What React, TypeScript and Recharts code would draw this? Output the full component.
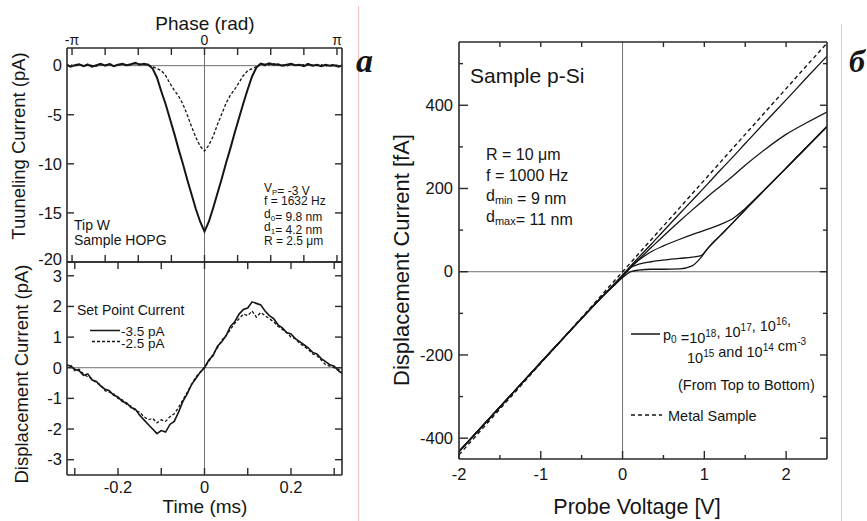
import React from "react";
import { LineChart, Line, XAxis, YAxis, ReferenceLine } from "recharts";

// time grid (ms) shared by both left panels
const TIME = [
  -0.32, -0.31, -0.3, -0.29, -0.28, -0.27, -0.26, -0.25, -0.24, -0.23,
  -0.22, -0.21, -0.2, -0.19, -0.18, -0.17, -0.16, -0.15, -0.14, -0.13,
  -0.12, -0.11, -0.1, -0.09, -0.08, -0.07, -0.06, -0.05, -0.04, -0.03,
  -0.02, -0.01, 0, 0.01, 0.02, 0.03, 0.04, 0.05, 0.06, 0.07,
  0.08, 0.09, 0.1, 0.11, 0.12, 0.13, 0.14, 0.15, 0.16, 0.17,
  0.18, 0.19, 0.2, 0.21, 0.22, 0.23, 0.24, 0.25, 0.26, 0.27,
  0.28, 0.29, 0.3, 0.31, 0.32,
];

// tunneling current (pA)
const TUNNEL_SOLID = [
  0.1, -0.1, 0.05, 0.15, -0.05, 0.1, -0.1, 0.05, 0.2, 0.0,
  0.15, -0.05, 0.1, 0.2, 0.05, 0.15, 0.3, 0.1, 0.2, 0.1,
  -0.3, -1.2, -2.6, -3.9, -5.4, -6.9, -8.5, -10.0, -11.6, -13.1,
  -14.6, -15.9, -16.9, -15.9, -14.5, -13.0, -11.5, -9.9, -8.4, -6.8,
  -5.3, -3.8, -2.4, -1.1, -0.2, 0.2, 0.1, 0.25, 0.1, 0.15,
  0.0, 0.1, 0.2, 0.05, 0.1, -0.05, 0.15, 0.0, 0.1, -0.05,
  0.1, 0.0, 0.05, -0.1, 0.05,
];
const TUNNEL_DASHED = [
  0.0, 0.1, -0.05, 0.1, 0.0, 0.15, 0.0, -0.05, 0.1, 0.05,
  0.2, 0.0, 0.05, 0.15, 0.0, 0.1, 0.2, 0.15, 0.1, 0.05,
  -0.1, -0.3, -0.5, -1.0, -1.8, -2.5, -3.1, -3.9, -5.0, -6.2,
  -7.3, -8.2, -8.7, -8.1, -7.2, -6.0, -4.9, -3.8, -3.0, -2.4,
  -1.7, -1.0, -0.5, -0.3, -0.1, 0.15, 0.0, 0.1, 0.2, 0.05,
  0.1, -0.05, 0.15, 0.1, 0.0, 0.1, 0.2, 0.05, 0.0, 0.1,
  -0.05, 0.05, 0.1, 0.0, -0.05,
];

// displacement current (pA), set point -3.5 pA / -2.5 pA
const DISP_SOLID = [
  0.1, 0.05, -0.05, -0.1, -0.25, -0.2, -0.4, -0.45, -0.6, -0.7,
  -0.75, -0.9, -0.95, -1.1, -1.15, -1.3, -1.35, -1.55, -1.7, -1.85,
  -2.0, -2.15, -2.05, -2.1, -1.85, -1.75, -1.45, -1.1, -0.85, -0.55,
  -0.35, -0.15, 0.0, 0.25, 0.4, 0.7, 0.85, 1.05, 1.35, 1.5,
  1.75, 1.9, 1.95, 2.15, 2.1, 2.05, 1.85, 1.7, 1.6, 1.4,
  1.3, 1.15, 1.1, 0.95, 0.85, 0.75, 0.65, 0.5, 0.45, 0.3,
  0.2, 0.1, 0.05, -0.1, -0.2,
];
const DISP_DASHED = [
  0.05, 0.1, -0.1, -0.05, -0.2, -0.3, -0.35, -0.5, -0.55, -0.75,
  -0.8, -0.85, -1.0, -1.05, -1.2, -1.25, -1.4, -1.45, -1.6, -1.7,
  -1.65, -1.8, -1.7, -1.75, -1.6, -1.5, -1.3, -1.05, -0.8, -0.55,
  -0.3, -0.15, 0.02, 0.2, 0.45, 0.65, 0.9, 1.05, 1.25, 1.45,
  1.6, 1.75, 1.7, 1.85, 1.65, 1.8, 1.7, 1.6, 1.5, 1.35,
  1.25, 1.15, 1.0, 0.95, 0.8, 0.7, 0.6, 0.45, 0.4, 0.25,
  0.1, 0.05, 0.0, -0.05, -0.15,
];

// probe voltage (V) and displacement current (fA) for p-Si
const VOLT = [-2, -1.5, -1, -0.5, -0.25, 0, 0.1, 0.2, 0.35, 0.5, 0.7, 0.85, 0.95, 1.05, 1.2, 1.35, 1.5, 1.75, 2, 2.25, 2.5];
const METAL = [-440, -330, -220, -110, -55, 0, 22, 44, 77, 110, 154, 187, 209, 231, 264, 297, 330, 385, 440, 495, 549];
const P18 = [-432, -325, -218, -112, -60, -8, 14, 35, 66, 98, 140, 171, 192, 213, 245, 276, 308, 361, 413, 466, 518];
const P17 = [-432, -325, -218, -112, -60, -10, 10, 30, 58, 86, 122, 148, 165, 182, 206, 230, 256, 295, 330, 358, 384];
const P16 = [-432, -325, -218, -112, -60, -12, 12, 28, 48, 62, 78, 89, 96, 103, 114, 128, 152, 200, 249, 299, 349];
const P15 = [-432, -325, -218, -112, -60, -12, 10, 18, 24, 28, 32, 35, 38, 58, 88, 118, 149, 199, 249, 299, 349];
const P14 = [-432, -325, -218, -112, -60, -14, 0, 4, 6, 6, 7, 14, 32, 58, 88, 118, 149, 199, 249, 299, 349];

// phase axis: one period of 1632 Hz, ticks every pi/4
const PERIOD_MS = 1000 / 1632;
const PHASE_LABELS = ["-π", "", "", "", "0", "", "", "", "π"];
const PHASE_TICKS = PHASE_LABELS.map((_, i) => ((i - 4) * PERIOD_MS) / 8);
const TIME_TICKS = [-0.3, -0.2, -0.1, 0, 0.1, 0.2, 0.3];
const TIME_LABELED = [-0.2, 0, 0.2];
const TUNNEL_TICKS = [-20, -15, -10, -5, 0];
const DISP_TICKS = [-3, -2, -1, 0, 1, 2, 3];
const VOLT_TICKS = [-2, -1.5, -1, -0.5, 0, 0.5, 1, 1.5, 2];
const VOLT_TOP_TICKS = [-1.5, -1, -0.5, 0.5, 1, 1.5, 2];
const CURRENT_TICKS = [-400, -300, -200, -100, 0, 100, 200, 300, 400, 500];

const FONT = "'Liberation Sans', Arial, Helvetica, sans-serif";
const INK = "#151515";
const FRAME = "#2a2a2a";
const ZERO = "#707070";

const tunnelData = TIME.map((t, i) => ({ t, solid: TUNNEL_SOLID[i], dashed: TUNNEL_DASHED[i] }));
const dispData = TIME.map((t, i) => ({ t, solid: DISP_SOLID[i], dashed: DISP_DASHED[i] }));
const siData = VOLT.map((v, i) => ({ v, metal: METAL[i], p18: P18[i], p17: P17[i], p16: P16[i], p15: P15[i], p14: P14[i] }));

const frameLine = { stroke: FRAME, strokeWidth: 1.6 };
const T_DOMAIN: [number, number] = [-0.318, 0.318];
const TUN_DOMAIN: [number, number] = [-20, 1.8];
const DISP_DOMAIN: [number, number] = [-3.5, 3.45];
const V_DOMAIN: [number, number] = [-2, 2.5];
const I_DOMAIN: [number, number] = [-450, 552];

// plot boxes on the page (must agree with the chart margins below)
type Box = { l: number; r: number; t: number; b: number; xd: [number, number]; yd: [number, number] };
const BOX_A: Box = { l: 67, r: 342, t: 48, b: 262, xd: T_DOMAIN, yd: TUN_DOMAIN };
const BOX_B: Box = { l: 67, r: 342, t: 262, b: 475, xd: T_DOMAIN, yd: DISP_DOMAIN };
const BOX_C: Box = { l: 459, r: 827, t: 42, b: 459, xd: V_DOMAIN, yd: I_DOMAIN };

type Side = "left" | "right" | "top" | "bottom";

// tick labels only, placed outside the frame edge
function label(side: Side, edge: number, text: (v: number, i: number) => string,
  gap = 5, size = 16.5, shift: (v: number) => number = () => 0) {
  return (props: any) => {
    const c = props.payload.coordinate;
    const v = props.payload.value;
    const txt = text(v, props.index);
    if (!txt) return <g />;
    if (side === "left")
      return <text x={edge - gap} y={c + shift(v)} dy="0.35em" textAnchor="end" fontSize={size} fontFamily={FONT} fill={INK}>{txt}</text>;
    if (side === "bottom")
      return <text x={c} y={edge + gap} dy="0.71em" textAnchor="middle" fontSize={size} fontFamily={FONT} fill={INK}>{txt}</text>;
    return <text x={c} y={edge - gap} textAnchor="middle" fontSize={size} fontFamily={FONT} fill={INK}>{txt}</text>;
  };
}

// inward tick marks along one side of a plot box, same linear mapping as the axes
function boxTicks(box: Box, side: Side, values: number[], len: (v: number) => number) {
  const sx = (v: number) => box.l + ((v - box.xd[0]) / (box.xd[1] - box.xd[0])) * (box.r - box.l);
  const sy = (v: number) => box.b - ((v - box.yd[0]) / (box.yd[1] - box.yd[0])) * (box.b - box.t);
  return values.map((v) => {
    const l = len(v);
    let d = "";
    if (side === "left") d = `M${box.l},${sy(v)}h${l}`;
    else if (side === "right") d = `M${box.r},${sy(v)}h${-l}`;
    else if (side === "top") d = `M${sx(v)},${box.t}v${l}`;
    else d = `M${sx(v)},${box.b}v${-l}`;
    return <path key={`${box.l}-${box.t}-${side}-${v}`} d={d} stroke={FRAME} strokeWidth={1.4} fill="none" />;
  });
}

const none = () => "";
const seven = () => 7;

// plot box of the top-left chart: x 67..342, y 48..262
function TunnelChart() {
  return (
    <LineChart width={360} height={270} data={tunnelData} margin={{ top: 47, left: 66, right: 17, bottom: 7 }}>
      <XAxis xAxisId="b" dataKey="t" type="number" domain={T_DOMAIN} allowDataOverflow height={1}
        ticks={PHASE_TICKS} interval={0} tickSize={0} tickLine={false} axisLine={frameLine} tick={false} />
      <XAxis xAxisId="t" dataKey="t" type="number" domain={T_DOMAIN} allowDataOverflow orientation="top" height={1}
        ticks={PHASE_TICKS} interval={0} tickSize={0} tickLine={false} axisLine={frameLine}
        tick={label("top", 48, (_v, i) => PHASE_LABELS[i], 3.5, 14)} />
      <YAxis yAxisId="l" type="number" domain={TUN_DOMAIN} allowDataOverflow width={1}
        ticks={TUNNEL_TICKS} interval={0} tickSize={0} tickLine={false} axisLine={frameLine}
        tick={label("left", 67, (v) => String(v), 5, 16.5, (v) => (v === -20 ? -3 : 0))} />
      <YAxis yAxisId="r" orientation="right" type="number" domain={TUN_DOMAIN} allowDataOverflow width={1}
        ticks={TUNNEL_TICKS} interval={0} tickSize={0} tickLine={false} axisLine={frameLine} tick={false} />
      <ReferenceLine xAxisId="b" yAxisId="l" y={0} stroke={ZERO} strokeWidth={1} />
      <ReferenceLine xAxisId="b" yAxisId="l" x={0} stroke={ZERO} strokeWidth={1} />
      <Line xAxisId="b" yAxisId="l" dataKey="dashed" type="linear" stroke={INK} strokeWidth={1.3}
        strokeDasharray="3 2" dot={false} isAnimationActive={false} />
      <Line xAxisId="b" yAxisId="l" dataKey="solid" type="linear" stroke={INK} strokeWidth={2}
        dot={false} isAnimationActive={false} />
    </LineChart>
  );
}

// plot box of the bottom-left chart (offset 255): x 67..342, y 7..220
function DispChart() {
  return (
    <LineChart width={360} height={266} data={dispData} margin={{ top: 6, left: 66, right: 17, bottom: 45 }}>
      <XAxis xAxisId="b" dataKey="t" type="number" domain={T_DOMAIN} allowDataOverflow height={1}
        ticks={TIME_TICKS} interval={0} tickSize={0} tickLine={false} axisLine={frameLine}
        tick={label("bottom", 220, (v) => (TIME_LABELED.includes(v) ? String(v) : ""), 6.5)} />
      <XAxis xAxisId="t" dataKey="t" type="number" domain={T_DOMAIN} allowDataOverflow orientation="top" height={1}
        ticks={TIME_TICKS} interval={0} tickSize={0} tickLine={false} axisLine={frameLine} tick={false} />
      <YAxis yAxisId="l" type="number" domain={DISP_DOMAIN} allowDataOverflow width={1}
        ticks={DISP_TICKS} interval={0} tickSize={0} tickLine={false} axisLine={frameLine}
        tick={label("left", 67, (v) => String(v), 5)} />
      <YAxis yAxisId="r" orientation="right" type="number" domain={DISP_DOMAIN} allowDataOverflow width={1}
        ticks={DISP_TICKS} interval={0} tickSize={0} tickLine={false} axisLine={frameLine} tick={false} />
      <ReferenceLine xAxisId="b" yAxisId="l" y={0} stroke={ZERO} strokeWidth={1} />
      <ReferenceLine xAxisId="b" yAxisId="l" x={0} stroke={ZERO} strokeWidth={1} />
      <Line xAxisId="b" yAxisId="l" dataKey="dashed" type="linear" stroke={INK} strokeWidth={1.3}
        strokeDasharray="3 2" dot={false} isAnimationActive={false} />
      <Line xAxisId="b" yAxisId="l" dataKey="solid" type="linear" stroke={INK} strokeWidth={1.6}
        dot={false} isAnimationActive={false} />
    </LineChart>
  );
}

// plot box of the right chart (offset 400): x 59..427, y 42..459
function SiChart() {
  const isMajorV = (v: number) => Number.isInteger(v);
  const isMajorI = (v: number) => v % 200 === 0;
  const series = ["p18", "p17", "p16", "p15", "p14"];
  return (
    <LineChart width={441} height={521} data={siData} margin={{ top: 41, left: 58, right: 13, bottom: 61 }}>
      <XAxis xAxisId="b" dataKey="v" type="number" domain={V_DOMAIN} allowDataOverflow height={1}
        ticks={VOLT_TICKS} interval={0} tickSize={0} tickLine={false} axisLine={frameLine}
        tick={label("bottom", 459, (v) => (isMajorV(v) ? String(v) : ""), 9)} />
      <XAxis xAxisId="t" dataKey="v" type="number" domain={V_DOMAIN} allowDataOverflow orientation="top" height={1}
        ticks={VOLT_TOP_TICKS} interval={0} tickSize={0} tickLine={false} axisLine={frameLine} tick={false} />
      <YAxis yAxisId="l" type="number" domain={I_DOMAIN} allowDataOverflow width={1}
        ticks={CURRENT_TICKS} interval={0} tickSize={0} tickLine={false} axisLine={frameLine}
        tick={label("left", 59, (v) => (isMajorI(v) ? String(v) : ""), 6)} />
      <YAxis yAxisId="r" orientation="right" type="number" domain={I_DOMAIN} allowDataOverflow width={1}
        ticks={CURRENT_TICKS} interval={0} tickSize={0} tickLine={false} axisLine={frameLine} tick={false} />
      <ReferenceLine xAxisId="b" yAxisId="l" y={0} stroke={ZERO} strokeWidth={1} />
      <ReferenceLine xAxisId="b" yAxisId="l" x={0} stroke={ZERO} strokeWidth={1} />
      <Line xAxisId="b" yAxisId="l" dataKey="metal" type="linear" stroke={INK} strokeWidth={1.4}
        strokeDasharray="4 3" dot={false} isAnimationActive={false} />
      {series.map((k) => (
        <Line key={k} xAxisId="b" yAxisId="l" dataKey={k} type="monotone" stroke={INK} strokeWidth={1.3}
          dot={false} isAnimationActive={false} />
      ))}
    </LineChart>
  );
}

function Overlay() {
  const sub = (s: string, size = 9) => (
    <>
      <tspan dy={3} fontSize={size}>{s}</tspan>
      <tspan dy={-3}></tspan>
    </>
  );
  const sup = (s: string, size = 10) => (
    <>
      <tspan dy={-6} fontSize={size}>{s}</tspan>
      <tspan dy={6}></tspan>
    </>
  );
  const isMajorV = (v: number) => Number.isInteger(v);
  const isMajorI = (v: number) => v % 200 === 0;
  return (
    <svg width={867} height={521} style={{ position: "absolute", left: 0, top: 0, pointerEvents: "none" }}
      fontFamily={FONT} fill={INK}>
      <line x1={358.5} y1={6} x2={358.5} y2={521} stroke="#f5c2c2" strokeWidth={1} />
      <line x1={841.5} y1={24} x2={841.5} y2={521} stroke="#f5c2c2" strokeWidth={1} />
      <text x={356} y={72} fontFamily="'Liberation Serif', 'DejaVu Serif', serif" fontStyle="italic" fontWeight="bold" fontSize={34}>a</text>
      <text x={849} y={72} fontFamily="'Liberation Serif', 'DejaVu Serif', serif" fontStyle="italic" fontWeight="bold" fontSize={32}>б</text>

      {/* inward ticks on every frame side */}
      {boxTicks(BOX_A, "top", PHASE_TICKS, seven)}
      {boxTicks(BOX_A, "bottom", PHASE_TICKS, seven)}
      {boxTicks(BOX_A, "left", TUNNEL_TICKS, seven)}
      {boxTicks(BOX_A, "right", TUNNEL_TICKS, seven)}
      {boxTicks(BOX_B, "top", TIME_TICKS, seven)}
      {boxTicks(BOX_B, "bottom", TIME_TICKS, seven)}
      {boxTicks(BOX_B, "left", DISP_TICKS, seven)}
      {boxTicks(BOX_B, "right", DISP_TICKS, seven)}
      {boxTicks(BOX_C, "bottom", VOLT_TICKS, (v) => (isMajorV(v) ? 8 : 4))}
      {boxTicks(BOX_C, "top", VOLT_TOP_TICKS, () => 5)}
      {boxTicks(BOX_C, "left", CURRENT_TICKS, (v) => (isMajorI(v) ? 9 : 4))}
      {boxTicks(BOX_C, "right", CURRENT_TICKS, (v) => (isMajorI(v) ? 7 : 4))}

      {/* left panels */}
      <text x={205} y={30} textAnchor="middle" fontSize={19}>Phase (rad)</text>
      <text x={205} y={513} textAnchor="middle" fontSize={19}>Time (ms)</text>
      <text transform="translate(25,146) rotate(-90)" textAnchor="middle" fontSize={18.5}>Tuuneling Current (pA)</text>
      <text transform="translate(27.5,374) rotate(-90)" textAnchor="middle" fontSize={18.5}>Displacement Current (pA)</text>

      <g fontSize={12}>
        <text x={264} y={191.5}>V{sub("P", 8)}= -3 V</text>
        <text x={264} y={204.5}>f = 1632 Hz</text>
        <text x={264} y={217.5}>d{sub("0", 8)}= 9.8 nm</text>
        <text x={264} y={230.5}>d{sub("1", 8)}= 4.2 nm</text>
        <text x={264} y={244.5}>R = 2.5 μm</text>
      </g>
      <g fontSize={14}>
        <text x={74} y={229.5}>Tip W</text>
        <text x={74} y={244.5}>Sample HOPG</text>
        <text x={77} y={314.5}>Set Point Current</text>
      </g>
      <g fontSize={13.5}>
        <line x1={90} y1={330.5} x2={120} y2={330.5} stroke={INK} strokeWidth={1.5} />
        <text x={121} y={336}>-3.5 pA</text>
        <line x1={92} y1={341.5} x2={120} y2={341.5} stroke={INK} strokeWidth={1.3} strokeDasharray="3 2" />
        <text x={121} y={348}>-2.5 pA</text>
      </g>

      {/* right panel */}
      <text x={637} y={514} textAnchor="middle" fontSize={21.5}>Probe Voltage [V]</text>
      <text transform="translate(409,260) rotate(-90)" textAnchor="middle" fontSize={22}>Displacement Current [fA]</text>
      <text x={470} y={83} fontSize={21}>Sample p-Si</text>
      <g fontSize={16}>
        <text x={486} y={160}>R = 10 μm</text>
        <text x={486} y={181}>f = 1000 Hz</text>
        <text x={486} y={201}>d{sub("min", 11)} =  9 nm</text>
        <text x={486} y={222}>d{sub("max", 11)}= 11 nm</text>
      </g>
      <g fontSize={14.5}>
        <line x1={631} y1={334} x2={660} y2={334} stroke={INK} strokeWidth={1.5} />
        <text x={663} y={340}>p{sub("0", 10)} =10{sup("18")}, 10{sup("17")}, 10{sup("16")},</text>
        <text x={687} y={362.5}>10{sup("15")} and 10{sup("14")} cm{sup("-3")}</text>
        <text x={678} y={390}>(From Top to Bottom)</text>
        <line x1={631} y1={415} x2={662} y2={415} stroke={INK} strokeWidth={1.3} strokeDasharray="4 3" />
        <text x={668} y={420.5}>Metal Sample</text>
      </g>
    </svg>
  );
}

export default function App() {
  return (
    <div style={{ position: "absolute", left: 0, top: 0, width: 867, height: 521, background: "#fff", fontFamily: FONT }}>
      <div style={{ position: "absolute", left: 0, top: 0 }}>
        <TunnelChart />
      </div>
      <div style={{ position: "absolute", left: 0, top: 255 }}>
        <DispChart />
      </div>
      <div style={{ position: "absolute", left: 400, top: 0 }}>
        <SiChart />
      </div>
      <Overlay />
    </div>
  );
}
